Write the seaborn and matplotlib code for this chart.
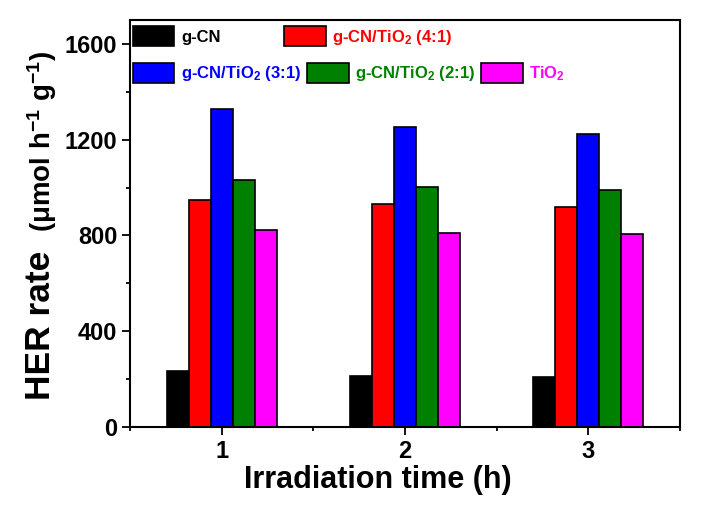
import pandas as pd
import matplotlib
matplotlib.use("Agg")
import matplotlib.pyplot as plt
import seaborn as sns
from matplotlib.patches import Patch
from matplotlib.ticker import MultipleLocator

# HER rate per sample at each irradiation time
times = ['1', '2', '3']
samples = ['g-CN', 'g-CN/TiO$_2$ (4:1)', 'g-CN/TiO$_2$ (3:1)', 'g-CN/TiO$_2$ (2:1)', 'TiO$_2$']
g_cn = [232, 213, 208]
cn_tio2_41 = [948, 930, 919]
cn_tio2_31 = [1328, 1254, 1222]
cn_tio2_21 = [1030, 1001, 990]
tio2 = [822, 812, 805]
colors = ['#000000', '#FF0000', '#0000FF', '#008000', '#FF00FF']

rows = []
for name, vals in zip(samples, [g_cn, cn_tio2_41, cn_tio2_31, cn_tio2_21, tio2]):
    for t, v in zip(times, vals):
        rows.append({'time': t, 'sample': name, 'rate': v})
df = pd.DataFrame(rows)

sns.set_style('ticks')
plt.rcParams['font.family'] = ['Liberation Sans', 'DejaVu Sans']
plt.rcParams['font.weight'] = 'bold'
plt.rcParams['mathtext.fontset'] = 'custom'
plt.rcParams['mathtext.rm'] = 'Liberation Sans:bold'
plt.rcParams['mathtext.it'] = 'Liberation Sans:bold'
plt.rcParams['mathtext.bf'] = 'Liberation Sans:bold'
plt.rcParams['mathtext.default'] = 'bf'
for key in ['text.color', 'axes.labelcolor', 'xtick.color', 'ytick.color', 'axes.edgecolor']:
    plt.rcParams[key] = 'black'

fig = plt.figure(figsize=(7.1, 5.14), dpi=100)
ax = fig.add_axes([130 / 710, 1 - 427 / 514, 550 / 710, 407 / 514])

sns.barplot(data=df, x='time', y='rate', hue='sample', hue_order=samples,
            palette=colors, saturation=1, width=0.6, edgecolor='black', linewidth=1.2,
            legend=False, ax=ax)

ax.set_xlim(-0.5, 2.5)
ax.set_ylim(0, 1700)
ax.yaxis.set_major_locator(MultipleLocator(400))
ax.yaxis.set_minor_locator(MultipleLocator(200))
ax.xaxis.set_minor_locator(MultipleLocator(0.5))
ax.tick_params(axis='both', which='major', direction='out', length=6, width=1.3,
               labelsize=17, pad=3, colors='black')
ax.tick_params(axis='both', which='minor', direction='out', length=3, width=1.3, colors='black')
ax.tick_params(top=False, right=False, which='both')
for lab in ax.get_xticklabels() + ax.get_yticklabels():
    lab.set_fontweight('bold')
for sp in ax.spines.values():
    sp.set_linewidth(1.5)
    sp.set_color('black')
    sp.set_visible(True)

ax.set_xlabel('Irradiation time (h)', fontsize=22, fontweight='bold', labelpad=2)
ax.xaxis.label.set_x(0.451)
ax.set_ylabel('')

# y label in two sizes, as in the original
fig.text(50 / 710, 1 - 400 / 514, 'HER rate', fontsize=25.5, fontweight='bold',
         rotation=90, rotation_mode='anchor', ha='left', va='baseline')
fig.text(51 / 710, 1 - 232 / 514, '(μmol h$^{-1}$ g$^{-1}$)', fontsize=20, fontweight='bold',
         rotation=90, rotation_mode='anchor', ha='left', va='baseline')

handles = [Patch(facecolor=c, edgecolor='black', linewidth=1.2) for c in colors]
leg_kw = dict(loc='upper left', frameon=False, borderpad=0, borderaxespad=0,
              handlelength=2.5, handleheight=1.5, handletextpad=0.4,
              prop={'weight': 'bold', 'size': 12})
leg1 = ax.legend(handles[:2], samples[:2], ncol=2, columnspacing=3.8,
                 bbox_to_anchor=(0.005, 0.985), **leg_kw)
ax.add_artist(leg1)
leg2 = ax.legend(handles[2:], samples[2:], ncol=3, columnspacing=0.35,
                 bbox_to_anchor=(0.005, 0.895), **leg_kw)
for leg, cols in [(leg1, colors[:2]), (leg2, colors[2:])]:
    for txt, c in zip(leg.get_texts(), cols):
        txt.set_color(c)

fig.savefig('out.png', dpi=100)
